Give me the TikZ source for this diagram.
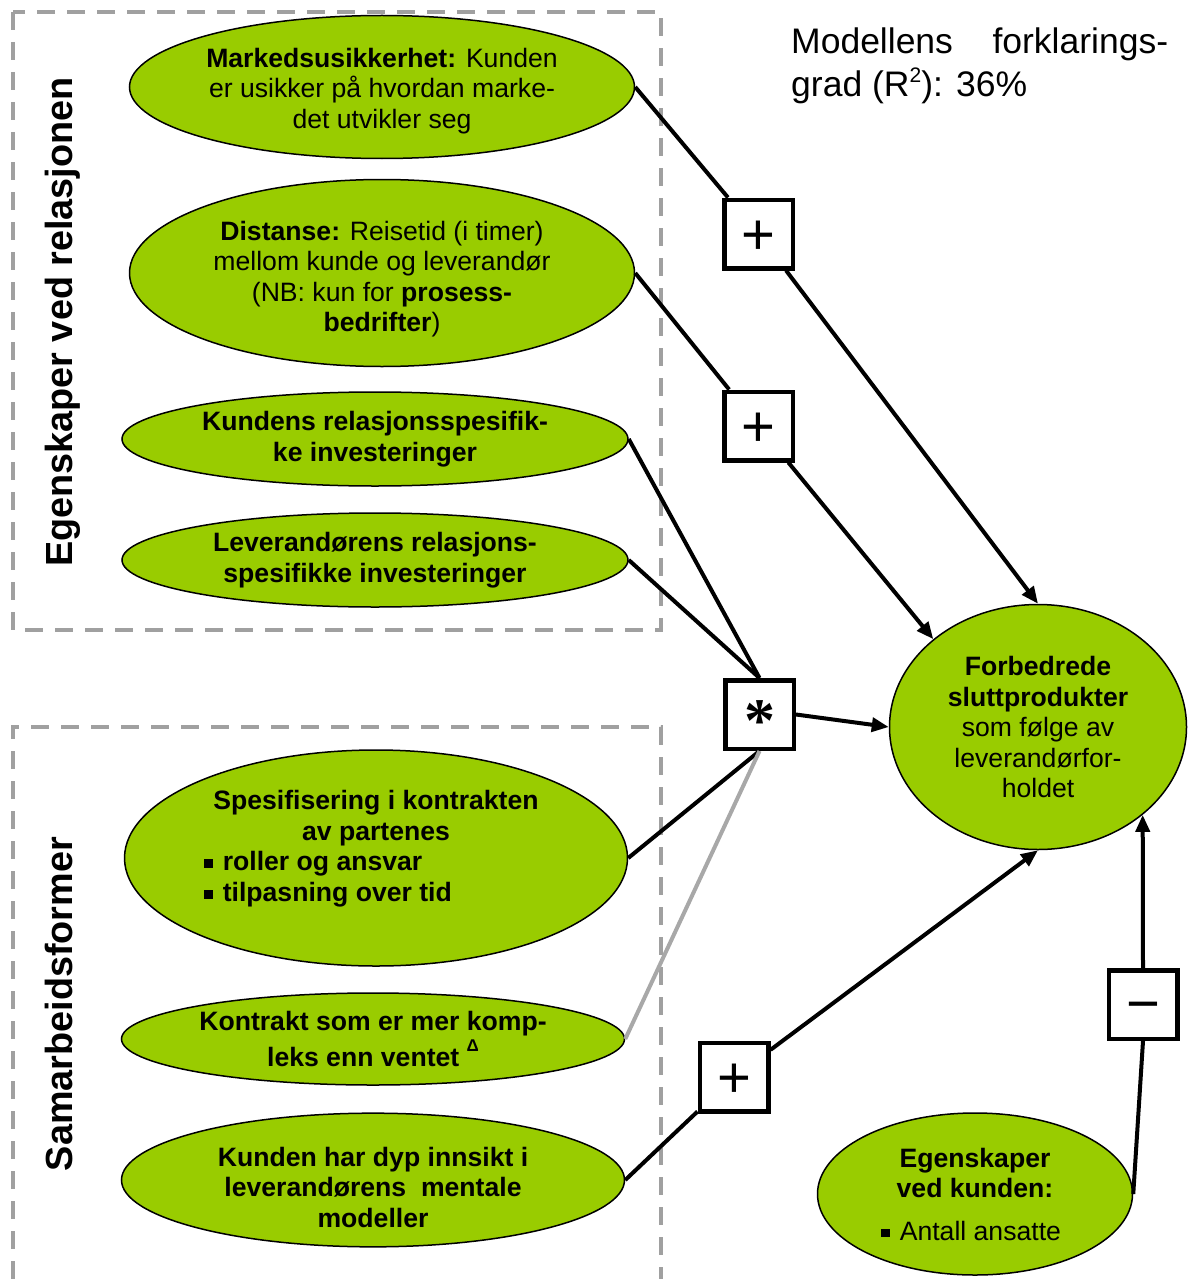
\documentclass[tikz,border=0pt]{standalone}
\usepackage{fontspec}
\setmainfont{Liberation Sans}
\newfontfamily\astfont{Liberation Serif}
\usetikzlibrary{arrows.meta,shapes.geometric}
\definecolor{leaf}{HTML}{99CC00}
\definecolor{framegray}{HTML}{A0A0A0}
\definecolor{weaklink}{HTML}{A8A8A8}
\newcommand\sqbul{\rule[0.1em]{0.33em}{0.33em}}
\newcommand\centredsign[2]{\smash{\raisebox{#1}{#2}}}
\newcommand\topstrut[1]{\rule{0pt}{#1}}

\begin{document}
\begin{tikzpicture}[x=1pt,y=-1pt,
  factor/.style={ellipse, draw=black, line width=1.5pt, fill=leaf, inner sep=0pt,
    align=center, font=\fontsize{26.6}{30.5}\selectfont},
  signbox/.style={draw=black, line width=4.5pt, fill=white, minimum size=68.5pt,
    inner sep=0pt, font=\fontsize{58}{58}\selectfont},
  link/.style={line width=4pt, draw=black},
  arrowlink/.style={link, -{Triangle[length=17pt,width=14pt]}},
  groupframe/.style={draw=framegray, line width=4pt, dash pattern=on 18pt off 12pt},
  grouptitle/.style={rotate=90, inner sep=0pt, font=\fontsize{37.8}{40}\selectfont\bfseries}
]
\useasboundingbox (0,0) rectangle (1192,1279);

% dashed group frames
\draw[groupframe] (13,12) rectangle (661,630);
\draw[groupframe] (13,1279) -- (13,727) -- (661,727) -- (661,1279);

% group titles
\node[grouptitle, anchor=base] (t1) at (72,322) {Egenskaper ved relasjonen};
\node[grouptitle, anchor=base] (t2) at (72,1004) {Samarbeidsformer};

% explained share
\node[anchor=north west, inner sep=0pt, align=left,
  font=\fontsize{35.5}{43}\selectfont] (r2) at (791,28)
  {\makebox[377pt]{Modellens\hfill forklarings-}\\grad (R\raisebox{0.42em}{\fontsize{21}{21}\selectfont 2}): 36\%};

% factors
\node[factor, minimum width=505pt, minimum height=143pt] (mu) at (382,87)
  {\topstrut{1.0em}\textbf{Markedsusikkerhet:} Kunden\\er usikker på hvordan marke-\\det utvikler seg};
\node[factor, minimum width=505pt, minimum height=187pt] (di) at (382,273)
  {\topstrut{1.2em}\textbf{Distanse:} Reisetid (i timer)\\mellom kunde og leverandør\\(NB: kun for \textbf{prosess-}\\\textbf{bedrifter})};
\node[factor, minimum width=506pt, minimum height=94pt] (kr) at (375,439)
  {\textbf{Kundens relasjonsspesifik-}\\\textbf{ke investeringer}};
\node[factor, minimum width=506pt, minimum height=94pt] (lr) at (375,560)
  {\textbf{Leverandørens relasjons-}\\\textbf{spesifikke investeringer}};
\node[factor, minimum width=503pt, minimum height=216pt] (sp) at (376,858)
  {\textbf{Spesifisering i kontrakten}\\\textbf{av partenes}\\
   \makebox[340pt][l]{\hspace{-2pt}\textbf{\sqbul\hspace{10pt}roller og ansvar}}\\
   \makebox[340pt][l]{\hspace{-2pt}\textbf{\sqbul\hspace{10pt}tilpasning over tid}}\\[-6.5pt]\mbox{}};
\node[factor, minimum width=503pt, minimum height=92pt] (ko) at (373,1039)
  {\textbf{Kontrakt som er mer komp-}\\[3pt]\textbf{leks enn ventet \raisebox{0.55em}{\fontsize{17}{17}\selectfont Δ}}};
\node[factor, minimum width=503pt, minimum height=130pt] (dy) at (373,1180)
  {\topstrut{1.25em}\textbf{Kunden har dyp innsikt i}\\\textbf{leverandørens\ \ mentale}\\\textbf{modeller}};
\node[factor, minimum width=297pt, minimum height=245pt] (F) at (1038,727)
  {\textbf{Forbedrede}\\\textbf{sluttprodukter}\\som følge av\\leverandørfor-\\holdet};
\node[factor, minimum width=315pt, minimum height=162pt] (ek) at (975,1194)
  {\textbf{Egenskaper}\\\textbf{ved kunden:}\\[12pt]\hspace{-8pt}\sqbul\hspace{10pt}Antall ansatte};

% effect signs
\node[signbox] (p1) at (758.5,234) {\centredsign{-0.353em}{+}};
\node[signbox] (p2) at (758.5,426) {\centredsign{-0.353em}{+}};
\node[signbox] (st) at (759.5,714.5) {\centredsign{-0.47em}{\astfont\bfseries\fontsize{62}{62}\selectfont *}};
\node[signbox] (p3) at (734,1077) {\centredsign{-0.353em}{+}};
\node[signbox] (mn) at (1143,1004.5) {\centredsign{-0.33em}{−}};

% connectors
\draw[link] (mu.east) -- (p1);
\draw[arrowlink] (p1) -- (F.north);
\draw[link] (di.east) -- (p2);
\draw[arrowlink] (p2) -- (F.140);
\draw[link] (kr.east) -- (st.north);
\draw[link] (lr.east) -- (st.north);
\draw[link] (sp.east) -- (st.south);
\draw[link, draw=weaklink] (ko.east) -- (st.south);
\draw[arrowlink] (st.east) -- (F.west);
\draw[link] (dy.east) -- (p3);
\draw[arrowlink] (p3) -- (F.south);
\draw[link] (ek.east) -- (mn.south);
\draw[arrowlink] (mn.north) -- (F.-40);
\end{tikzpicture}
\end{document}
